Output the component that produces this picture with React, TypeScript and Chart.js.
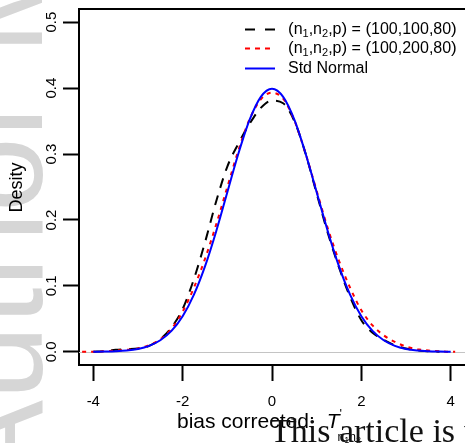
import React, { useEffect, useRef } from "react";
import { Chart, registerables } from "chart.js";

Chart.register(...registerables);

// ---------- data ----------
const NORMAL_X = [-4, -3.75, -3.5, -3.25, -3, -2.75, -2.5, -2.25, -2, -1.75, -1.5, -1.25, -1, -0.75, -0.5, -0.25, 0, 0.25, 0.5, 0.75, 1, 1.25, 1.5, 1.75, 2, 2.25, 2.5, 2.75, 3, 3.25, 3.5, 3.75, 4];
const NORMAL_Y = [0.0001, 0.0004, 0.0009, 0.002, 0.0044, 0.0091, 0.0175, 0.0317, 0.054, 0.0863, 0.1295, 0.1826, 0.242, 0.3011, 0.3521, 0.3867, 0.3989, 0.3867, 0.3521, 0.3011, 0.242, 0.1826, 0.1295, 0.0863, 0.054, 0.0317, 0.0175, 0.0091, 0.0044, 0.002, 0.0009, 0.0004, 0.0001];

const SIM1_X = [-4, -3.75, -3.5, -3.25, -3, -2.75, -2.5, -2.25, -2, -1.75, -1.5, -1.25, -1, -0.75, -0.5, -0.25, 0, 0.25, 0.5, 0.75, 1, 1.25, 1.5, 1.75, 2, 2.25, 2.5, 2.75, 3, 3.25, 3.5, 3.75];
const SIM1_Y = [0.0, 0.001, 0.003, 0.004, 0.005, 0.009, 0.019, 0.037, 0.065, 0.11, 0.166, 0.228, 0.281, 0.316, 0.346, 0.37, 0.381, 0.377, 0.35, 0.301, 0.24, 0.18, 0.128, 0.083, 0.048, 0.029, 0.018, 0.01, 0.005, 0.002, 0.001, 0.0];

const SIM2_X = [-4.25, -4, -3.75, -3.5, -3.25, -3, -2.75, -2.5, -2.25, -2, -1.75, -1.5, -1.25, -1, -0.75, -0.5, -0.25, 0, 0.25, 0.5, 0.75, 1, 1.25, 1.5, 1.75, 2, 2.25, 2.5, 2.75, 3, 3.25, 3.5, 3.75, 4, 4.1];
const SIM2_Y = [0.0, 0.0, 0.001, 0.002, 0.003, 0.005, 0.01, 0.019, 0.035, 0.061, 0.097, 0.141, 0.193, 0.25, 0.306, 0.353, 0.383, 0.393, 0.384, 0.351, 0.301, 0.244, 0.187, 0.138, 0.097, 0.063, 0.04, 0.025, 0.015, 0.008, 0.004, 0.002, 0.001, 0.0, 0.0];

const X_TICKS = [-4, -2, 0, 2, 4];
const Y_TICKS = [0, 0.1, 0.2, 0.3, 0.4, 0.5];

const LEGEND_N1 = ["100", "100"];
const LEGEND_N2 = ["100", "200"];
const LEGEND_P = ["80", "80"];
const LEGEND_NORMAL = "Std Normal";

const X_TITLE = "bias corrected:";
const Y_TITLE = "Desity";
const WATERMARK = "Author Manuscript";
const FOOTER = "This article is protected by copyright. All rights reserved.";

const FONT = '"Liberation Sans", Arial, Helvetica, sans-serif';

type Seg = { t: string; size: number; dy?: number; style?: string };

function drawSegs(ctx: CanvasRenderingContext2D, x: number, y: number, segs: Seg[]) {
  for (const s of segs) {
    ctx.font = `${s.style || ""} ${s.size}px ${FONT}`;
    ctx.fillText(s.t, x, y + (s.dy || 0));
    x += ctx.measureText(s.t).width;
  }
  return x;
}

function legendSegs(i: number): Seg[] {
  return [
    { t: "(", size: 17 },
    { t: "n", size: 16 },
    { t: "1", size: 11, dy: 4 },
    { t: ",", size: 16 },
    { t: "n", size: 16 },
    { t: "2", size: 11, dy: 4 },
    { t: ",p", size: 16 },
    { t: ")", size: 17 },
    { t: " = ", size: 16 },
    { t: "(", size: 17 },
    { t: `${LEGEND_N1[i]},${LEGEND_N2[i]},${LEGEND_P[i]}`, size: 16 },
    { t: ")", size: 17 },
  ];
}

const decor = {
  id: "decor",
  beforeDraw(chart: any) {
    const ctx: CanvasRenderingContext2D = chart.ctx;
    ctx.save();
    ctx.fillStyle = "rgb(214,214,214)";
    ctx.translate(42, 490);
    ctx.rotate(-Math.PI / 2);
    ctx.font = `135px ${FONT}`;
    ctx.textBaseline = "alphabetic";
    ctx.textAlign = "left";
    ctx.fillText(WATERMARK, 0, 0);
    ctx.restore();
  },
  beforeDatasetsDraw(chart: any) {
    const ctx: CanvasRenderingContext2D = chart.ctx;
    const { left, right } = chart.chartArea;
    const y0 = chart.scales.y.getPixelForValue(0);
    ctx.save();
    ctx.strokeStyle = "#c4c4c4";
    ctx.lineWidth = 1;
    ctx.beginPath();
    ctx.moveTo(left, Math.round(y0) + 0.5);
    ctx.lineTo(right, Math.round(y0) + 0.5);
    ctx.stroke();
    ctx.restore();
  },
  afterDraw(chart: any) {
    const ctx: CanvasRenderingContext2D = chart.ctx;
    const { left, right, top } = chart.chartArea;
    ctx.save();
    // top border
    ctx.strokeStyle = "#000";
    ctx.lineWidth = 2;
    ctx.beginPath();
    ctx.moveTo(left - 1, top);
    ctx.lineTo(right, top);
    ctx.stroke();

    // legend
    const rows = [29.5, 48.5, 68.5];
    const styles = [
      { color: "#000000", dash: [10, 10] },
      { color: "#ff0000", dash: [5, 5] },
      { color: "#0000ff", dash: [] as number[] },
    ];
    for (let i = 0; i < 3; i++) {
      ctx.strokeStyle = styles[i].color;
      ctx.setLineDash(styles[i].dash);
      ctx.lineWidth = 2;
      ctx.beginPath();
      ctx.moveTo(245, rows[i]);
      ctx.lineTo(275, rows[i]);
      ctx.stroke();
    }
    ctx.setLineDash([]);
    ctx.fillStyle = "#000";
    ctx.textBaseline = "middle";
    ctx.textAlign = "left";
    drawSegs(ctx, 288, rows[0], legendSegs(0));
    drawSegs(ctx, 288, rows[1], legendSegs(1));
    drawSegs(ctx, 288, rows[2], [{ t: LEGEND_NORMAL, size: 16 }]);

    // y title
    ctx.save();
    ctx.translate(22, 187.5);
    ctx.rotate(-Math.PI / 2);
    ctx.textAlign = "center";
    ctx.textBaseline = "alphabetic";
    ctx.font = `18px ${FONT}`;
    ctx.fillText(Y_TITLE, 0, 0);
    ctx.restore();

    // x title
    ctx.textBaseline = "alphabetic";
    ctx.textAlign = "left";
    ctx.font = `21px ${FONT}`;
    let x = 177;
    ctx.fillText(X_TITLE, x, 428);
    x += ctx.measureText(X_TITLE).width + 12;
    ctx.font = `italic 21px ${FONT}`;
    ctx.fillText("T", x, 428);
    const tx = x + ctx.measureText("T").width;
    ctx.font = `13px ${FONT}`;
    ctx.fillText("'", tx, 418);
    drawSegs(ctx, tx - 2, 441, [
      { t: "n", size: 12 },
      { t: "1", size: 9, dy: 2 },
      { t: "n", size: 12 },
      { t: "2", size: 9, dy: 2 },
    ]);

    // footer overlay text
    ctx.font = `34px "Liberation Serif", "Times New Roman", serif`;
    ctx.fillStyle = "#111";
    ctx.fillText(FOOTER, 270, 442);
    ctx.restore();
  },
};

export default function App() {
  const ref = useRef<HTMLCanvasElement | null>(null);
  useEffect(() => {
    if (!ref.current) return;
    const toPts = (xs: number[], ys: number[]) => xs.map((x, i) => ({ x, y: ys[i] }));
    const chart = new Chart(ref.current, {
      type: "line",
      data: {
        datasets: [
          {
            label: "Std Normal",
            data: toPts(NORMAL_X, NORMAL_Y),
            borderColor: "#0000ff",
            borderWidth: 2,
            cubicInterpolationMode: "monotone",
            pointRadius: 0,
            order: 0,
          },
          {
            label: "(100,200,80)",
            data: toPts(SIM2_X, SIM2_Y),
            borderColor: "#ff0000",
            borderWidth: 2,
            borderDash: [4, 5],
            cubicInterpolationMode: "monotone",
            pointRadius: 0,
            order: 1,
          },
          {
            label: "(100,100,80)",
            data: toPts(SIM1_X, SIM1_Y),
            borderColor: "#000000",
            borderWidth: 2,
            borderDash: [10, 8],
            cubicInterpolationMode: "monotone",
            pointRadius: 0,
            order: 2,
          },
        ],
      },
      options: {
        animation: false,
        responsive: false,
        devicePixelRatio: 1,
        layout: { padding: { left: 0, right: 0, top: 9, bottom: 0 } },
        plugins: { legend: { display: false }, tooltip: { enabled: false } },
        scales: {
          x: {
            type: "linear",
            min: -4.32,
            max: 4.32,
            afterBuildTicks: (s: any) => {
              s.ticks = X_TICKS.map((v) => ({ value: v }));
            },
            afterFit: (s: any) => {
              s.height = 78;
              s.paddingLeft = 0;
              s.paddingRight = 0;
            },
            grid: { drawOnChartArea: false, drawTicks: true, tickLength: 16, tickWidth: 2, tickColor: "#000" },
            border: { display: true, color: "#000", width: 2 },
            ticks: {
              color: "#000",
              font: { family: FONT, size: 15 },
              padding: 12,
              maxRotation: 0,
              autoSkip: false,
              callback: (v: any) => String(v),
            },
          },
          y: {
            type: "linear",
            min: -0.02,
            max: 0.52,
            afterBuildTicks: (s: any) => {
              s.ticks = Y_TICKS.map((v) => ({ value: v }));
            },
            afterFit: (s: any) => {
              s.width = 79;
              s.paddingTop = 0;
              s.paddingBottom = 0;
            },
            grid: { drawOnChartArea: false, drawTicks: true, tickLength: 16, tickWidth: 2, tickColor: "#000" },
            border: { display: true, color: "#000", width: 2 },
            ticks: {
              color: "#000",
              font: { family: FONT, size: 15 },
              padding: 1,
              minRotation: 90,
              maxRotation: 90,
              crossAlign: "center",
              autoSkip: false,
              callback: (v: any) => Number(v).toFixed(1),
            },
          },
        },
      } as any,
      plugins: [decor],
    });
    return () => chart.destroy();
  }, []);

  return (
    <div style={{ position: "absolute", left: 0, top: 0, width: 465, height: 443, overflow: "hidden", background: "#fff" }}>
      <canvas ref={ref} width={465} height={443} style={{ display: "block", width: 465, height: 443 }} />
    </div>
  );
}
